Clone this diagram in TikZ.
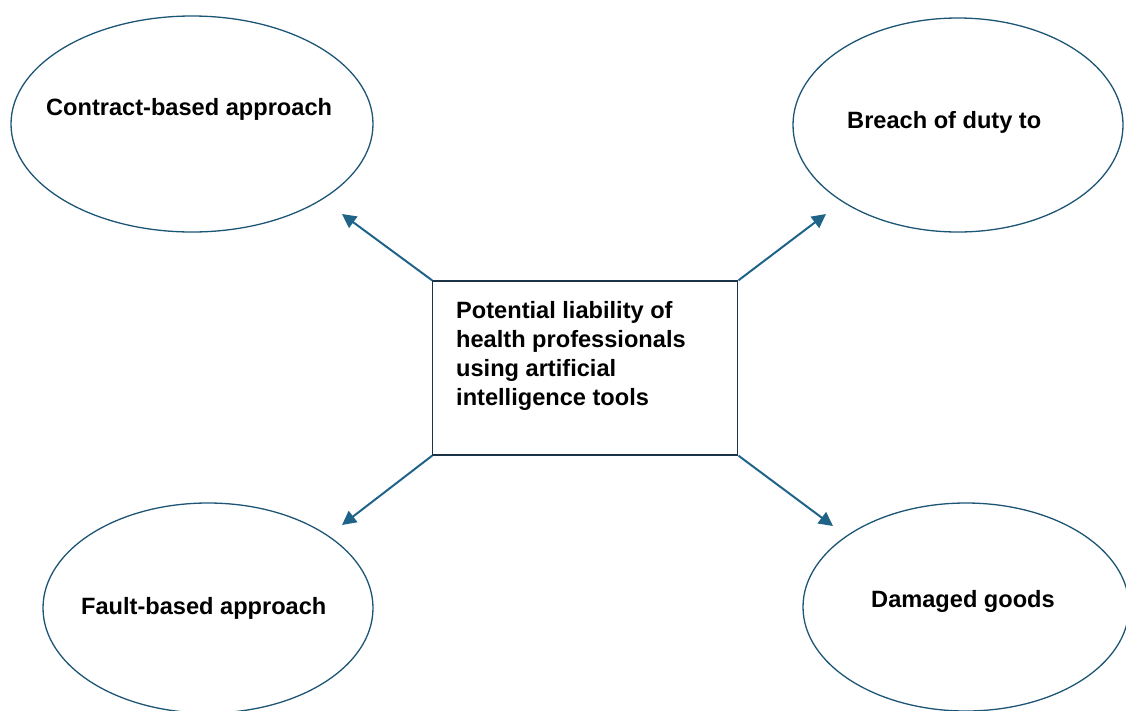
\documentclass[tikz,border=0pt]{standalone}
\usepackage{fontspec}
\setmainfont{Liberation Sans}
\usetikzlibrary{arrows.meta,shapes.geometric}
\definecolor{ellcol}{HTML}{1D5574}
\definecolor{arrcol}{HTML}{1F6488}
\definecolor{boxcol}{HTML}{1A3347}
\tikzset{
  oval/.style={draw=ellcol, line width=1.3pt, ellipse, inner sep=0pt},
  label text/.style={font=\bfseries\fontsize{23.6}{29}\selectfont, inner sep=0pt, anchor=base west},
  centrebox/.style={draw=boxcol, line width=1.3pt, inner sep=0pt, minimum width=305pt, minimum height=174pt},
  link/.style={draw=arrcol, line width=2pt, -{Triangle[length=14pt,width=14pt]}}
}
\begin{document}
\begin{tikzpicture}[x=1pt,y=-1pt]
\useasboundingbox (0,0) rectangle (1126,710);
\clip (0,0) rectangle (1126,710);
% ellipses
\node[oval, minimum width=362pt, minimum height=216pt] (tl) at (192,124) {};
\node[oval, minimum width=330pt, minimum height=214pt] (tr) at (958,125) {};
\node[oval, minimum width=330pt, minimum height=210pt] (bl) at (208,608) {};
\node[oval, minimum width=326pt, minimum height=208pt] (br) at (966,607) {};
% texts
\node[label text] (tltext) at (46,115) {Contract-based approach};
\node[label text] (trtext) at (847,128) {Breach of duty to};
\node[label text] (bltext) at (81,614) {Fault-based approach};
\node[label text] (brtext) at (871,607) {Damaged goods};
% centre box
\node[centrebox] (c) at (585.3,368) {};
\node[label text, align=left, anchor=north west] (ctext) at (456,301.5) {Potential liability of\\health professionals\\using artificial\\intelligence tools};
% arrow ends
\coordinate (atl) at (342,214);
\coordinate (atr) at (826,214);
\coordinate (abl) at (342,525);
\coordinate (abr) at (833,526);
\draw[link] (c.north west) -- (atl);
\draw[link] (c.north east) -- (atr);
\draw[link] (c.south west) -- (abl);
\draw[link] (c.south east) -- (abr);
\end{tikzpicture}
\end{document}
